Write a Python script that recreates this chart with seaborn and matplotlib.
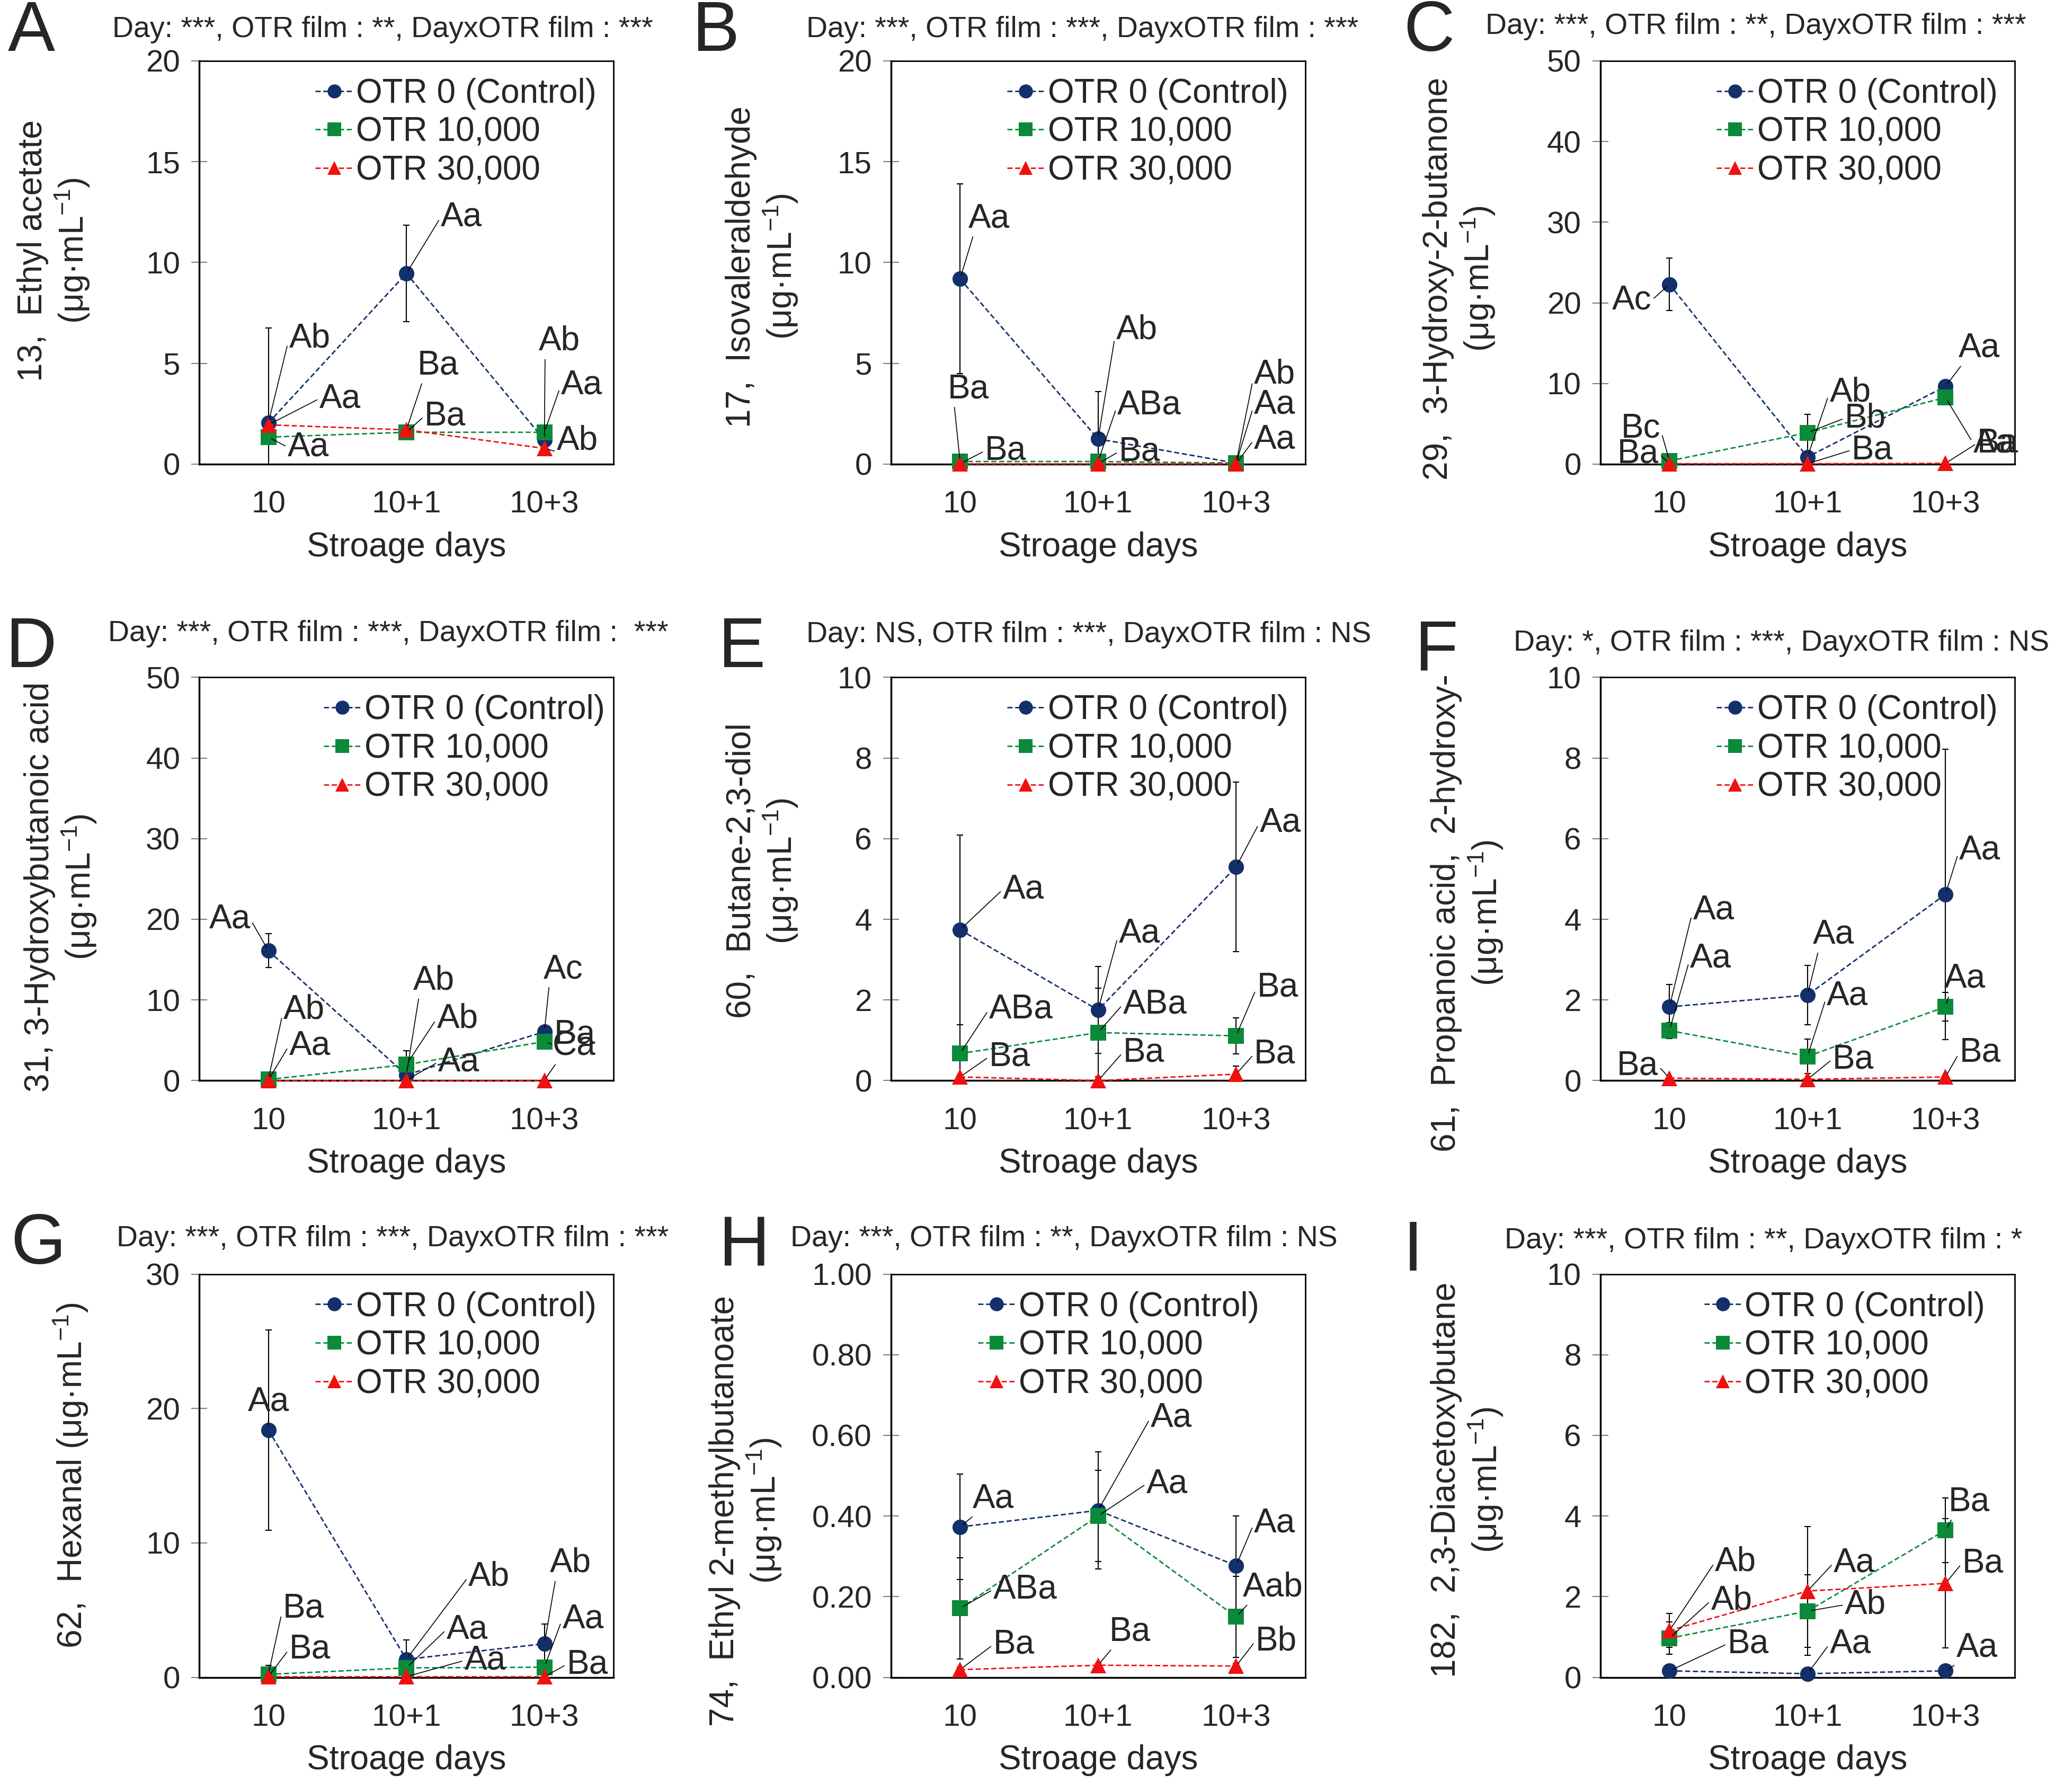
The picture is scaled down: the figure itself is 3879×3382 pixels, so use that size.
import numpy as np
import pandas as pd
import matplotlib
matplotlib.use("Agg")
import matplotlib.pyplot as plt
from matplotlib.lines import Line2D
from matplotlib.ticker import FormatStrFormatter
import seaborn as sns

# ------------------------------------------------------------
# DATA
# ------------------------------------------------------------
days = ["10", "10+1", "10+3"]
films = ["OTR 0 (Control)", "OTR 10,000", "OTR 30,000"]
panel_ids = ["A", "B", "C", "D", "E", "F", "G", "H", "I"]

unit = "(μg·mL$^{-1}$)"
ylabels = [
    "13,  Ethyl acetate\n" + unit,
    "17,  Isovaleraldehyde\n" + unit,
    "29,  3-Hydroxy-2-butanone\n" + unit,
    "31, 3-Hydroxybutanoic acid\n" + unit,
    "60,  Butane-2,3-diol\n" + unit,
    "61,  Propanoic acid,  2-hydroxy-\n" + unit,
    "62,  Hexanal " + unit,
    "74,  Ethyl 2-methylbutanoate\n" + unit,
    "182,  2,3-Diacetoxybutane\n" + unit,
]
stats = [
    "Day: ***, OTR film : **, DayxOTR film : ***",
    "Day: ***, OTR film : ***, DayxOTR film : ***",
    "Day: ***, OTR film : **, DayxOTR film : ***",
    "Day: ***, OTR film : ***, DayxOTR film :  ***",
    "Day: NS, OTR film : ***, DayxOTR film : NS",
    "Day: *, OTR film : ***, DayxOTR film : NS",
    "Day: ***, OTR film : ***, DayxOTR film : ***",
    "Day: ***, OTR film : **, DayxOTR film : NS",
    "Day: ***, OTR film : **, DayxOTR film : *",
]
ymax = [20, 20, 50, 50, 10, 10, 30, 1.0, 10]
ystep = [5, 5, 10, 10, 2, 2, 10, 0.2, 2]

# rows: control, 10,000, 30,000 ; columns: days
mean_A = [[2.04, 9.46, 1.2], [1.34, 1.58, 1.58], [1.95, 1.7, 0.78]]
err_A = [[4.7, 2.39, 0.3], [0.15, 0.1, 0.15], [0.1, 0.1, 0.1]]
lett_A = [["Ab", "Aa", "Ab"], ["Aa", "Ba", "Aa"], ["Aa", "Ba", "Ab"]]

mean_B = [[9.19, 1.25, 0.05], [0.13, 0.13, 0.05], [0.02, 0.02, 0.02]]
err_B = [[4.7, 2.35, 0.02], [0.05, 0.05, 0.02], [0.01, 0.01, 0.01]]
lett_B = [["Aa", "Ab", "Ab"], ["Ba", "ABa", "Aa"], ["Ba", "Ba", "Aa"]]

mean_C = [[22.3, 0.88, 9.64], [0.4, 3.9, 8.26], [0.05, 0.05, 0.1]]
err_C = [[3.25, 0.4, 0.5], [0.2, 2.3, 0.6], [0.05, 0.05, 0.05]]
lett_C = [["Ac", "Ab", "Aa"], ["Bc", "Bb", "Aa"], ["Ba", "Ba", "Ba"]]

mean_D = [[16.1, 0.7, 6.07], [0.14, 1.98, 4.83], [0.05, 0.05, 0.05]]
err_D = [[2.1, 0.3, 0.4], [0.1, 1.7, 0.4], [0.02, 0.02, 0.02]]
lett_D = [["Aa", "Ab", "Ac"], ["Ab", "Ab", "Ba"], ["Aa", "Aa", "Ca"]]

mean_E = [[3.74, 1.75, 5.3], [0.67, 1.19, 1.11], [0.09, 0.0, 0.16]]
err_E = [[2.35, 1.08, 2.1], [0.72, 1.1, 0.45], [0.05, 0.05, 0.2]]
lett_E = [["Aa", "Aa", "Aa"], ["ABa", "ABa", "Ba"], ["Ba", "Ba", "Ba"]]

mean_F = [[1.83, 2.12, 4.62], [1.24, 0.6, 1.83], [0.06, 0.03, 0.09]]
err_F = [[0.55, 0.73, 3.6], [0.2, 0.43, 0.35], [0.02, 0.02, 0.02]]
lett_F = [["Aa", "Aa", "Aa"], ["Aa", "Aa", "Aa"], ["Ba", "Ba", "Ba"]]

mean_G = [[18.4, 1.34, 2.5], [0.22, 0.7, 0.75], [0.05, 0.05, 0.05]]
err_G = [[7.45, 1.45, 1.45], [0.65, 0.3, 0.3], [0.02, 0.02, 0.02]]
lett_G = [["Aa", "Ab", "Ab"], ["Ba", "Aa", "Aa"], ["Ba", "Aa", "Ba"]]

mean_H = [[0.373, 0.414, 0.277], [0.171, 0.40, 0.15], [0.019, 0.03, 0.028]]
err_H = [[0.131, 0.145, 0.123], [0.125, 0.113, 0.1], [0.005, 0.005, 0.005]]
lett_H = [["Aa", "Aa", "Aa"], ["ABa", "Aa", "Aab"], ["Ba", "Ba", "Bb"]]

mean_I = [[0.16, 0.09, 0.16], [0.97, 1.64, 3.65], [1.16, 2.14, 2.33]]
err_I = [[0.05, 0.05, 0.05], [0.4, 0.9, 0.8], [0.42, 1.6, 1.6]]
lett_I = [["Ba", "Aa", "Aa"], ["Ab", "Ab", "Ba"], ["Ab", "Aa", "Ba"]]

means = [mean_A, mean_B, mean_C, mean_D, mean_E, mean_F, mean_G, mean_H, mean_I]
errs = [err_A, err_B, err_C, err_D, err_E, err_F, err_G, err_H, err_I]
letters = [lett_A, lett_B, lett_C, lett_D, lett_E, lett_F, lett_G, lett_H, lett_I]

# ------------------------------------------------------------
# LABEL PLACEMENT (dx in category units, dy in fraction of y range)
# ------------------------------------------------------------
off_A = [[(0.15, 0.21, "l"), (0.25, 0.14, "l"), (-0.04, 0.245, "l")],
         [(0.14, -0.025, "l"), (0.13, 0.04, "l"), (0.12, 0.117, "l")],
         [(0.37, 0.065, "l"), (0.08, 0.16, "l"), (0.09, 0.019, "l")]]
off_B = [[(0.06, 0.15, "l"), (0.13, 0.27, "l"), (0.13, 0.22, "l")],
         [(-0.09, 0.18, "l"), (0.14, 0.14, "l"), (0.13, 0.145, "l")],
         [(0.18, 0.032, "l"), (0.15, 0.03, "l"), (0.13, 0.06, "l")]]
off_C = [[(-0.13, -0.04, "r"), (0.16, 0.16, "l"), (0.095, 0.095, "l")],
         [(-0.066, 0.08, "r"), (0.27, 0.036, "l"), (0.2, -0.113, "l")],
         [(-0.076, 0.025, "r"), (0.32, 0.034, "l"), (0.23, 0.05, "l")]]
off_D = [[(-0.13, 0.078, "r"), (0.05, 0.234, "l"), (-0.006, 0.155, "l")],
         [(0.11, 0.173, "l"), (0.22, 0.114, "l"), (0.07, 0.018, "l")],
         [(0.15, 0.086, "l"), (0.23, 0.045, "l"), (0.06, 0.084, "l")]]
off_E = [[(0.31, 0.1, "l"), (0.15, 0.19, "l"), (0.17, 0.11, "l")],
         [(0.21, 0.11, "l"), (0.18, 0.07, "l"), (0.15, 0.12, "l")],
         [(0.21, 0.05, "l"), (0.18, 0.07, "l"), (0.13, 0.05, "l")]]
off_F = [[(0.17, 0.24, "l"), (0.04, 0.15, "l"), (0.1, 0.11, "l")],
         [(0.15, 0.18, "l"), (0.14, 0.15, "l"), (-0.01, 0.07, "l")],
         [(-0.08, 0.03, "r"), (0.18, 0.05, "l"), (0.1, 0.06, "l")]]
off_G = [[(0.0, 0.07, "c"), (0.45, 0.205, "l"), (0.04, 0.2, "l")],
         [(0.105, 0.164, "l"), (0.29, 0.095, "l"), (0.13, 0.12, "l")],
         [(0.15, 0.068, "l"), (0.42, 0.04, "l"), (0.16, 0.03, "l")]]
off_H = [[(0.09, 0.07, "l"), (0.38, 0.23, "l"), (0.13, 0.105, "l")],
         [(0.24, 0.047, "l"), (0.35, 0.08, "l"), (0.05, 0.074, "l")],
         [(0.24, 0.062, "l"), (0.08, 0.083, "l"), (0.14, 0.062, "l")]]
off_I = [[(0.42, 0.067, "l"), (0.16, 0.074, "l"), (0.08, 0.058, "l")],
         [(0.30, 0.093, "l"), (0.27, 0.016, "l"), (0.02, 0.07, "l")],
         [(0.33, 0.17, "l"), (0.19, 0.07, "l"), (0.12, 0.05, "l")]]
offsets = [off_A, off_B, off_C, off_D, off_E, off_F, off_G, off_H, off_I]

# ------------------------------------------------------------
# LAYOUT / STYLE
# ------------------------------------------------------------
col_left = [0.097, 0.4336, 0.7788]
row_bottom = [0.741, 0.397, 0.064]
ax_w, ax_h = 0.2015, 0.225
ylab_x = [-0.35, -0.31, -0.34, -0.334, -0.31, -0.32, -0.31, -0.35, -0.32]
ylab_y = [0.53, 0.49, 0.46, 0.48, 0.52, 0.416, 0.50, 0.413, 0.49]
stat_x = [-0.21, -0.205, -0.277, -0.22, -0.205, -0.21, -0.2, -0.243, -0.232]
stat_y = [0.078, 0.078, 0.085, 0.108, 0.105, 0.085, 0.088, 0.088, 0.082]
leg_x = [1.0, 1.0, 1.0, 1.02, 1.0, 1.0, 1.0, 0.93, 0.97]
letter_xy = [(0.0152, 0.9817), (0.3483, 0.9817), (0.6953, 0.9817),
             (0.0152, 0.6378), (0.361, 0.6378), (0.699, 0.6363),
             (0.0185, 0.3051), (0.3623, 0.3036), (0.6876, 0.3013)]

colors = ["#13306b", "#0b8a3a", "#f01010"]
markers = ["o", "s", "^"]
dash = (3.5, 1.8)

FS_TICK, FS_LAB, FS_STAT, FS_PANEL = 42, 46, 40, 96

sns.set_theme(style="white")
plt.rcParams["font.family"] = ["Liberation Sans", "DejaVu Sans"]
plt.rcParams["mathtext.fontset"] = "custom"
plt.rcParams["mathtext.rm"] = "Liberation Sans"
plt.rcParams["mathtext.it"] = "Liberation Sans:italic"
plt.rcParams["mathtext.bf"] = "Liberation Sans:bold"

fig = plt.figure(figsize=(38.79, 33.82), dpi=100)

for k, pid in enumerate(panel_ids):
    r, c = divmod(k, 3)
    ax = fig.add_axes([col_left[c], row_bottom[r], ax_w, ax_h])

    rows = []
    for s, film in enumerate(films):
        for d, day in enumerate(days):
            rows.append({"day": day, "film": film, "value": means[k][s][d],
                         "err": errs[k][s][d]})
    df = pd.DataFrame(rows)

    # error bars first (behind the lines)
    for s, film in enumerate(films):
        sub = df[df["film"] == film]
        ax.errorbar(sub["day"], sub["value"], yerr=sub["err"], fmt="none",
                    ecolor="black", elinewidth=1.5, capsize=4, capthick=1.5,
                    zorder=2)

    sns.lineplot(data=df, x="day", y="value", hue="film", style="film",
                 hue_order=films, style_order=films, palette=colors,
                 markers=markers, dashes=[dash] * 3, linewidth=2,
                 markersize=21, markeredgewidth=0, legend=False,
                 clip_on=False, zorder=3, ax=ax)

    ax.set_xlim(-0.5, 2.5)
    ax.set_ylim(0, ymax[k])
    ax.set_yticks(np.arange(0, ymax[k] + ystep[k] / 2, ystep[k]))
    if pid == "H":
        ax.yaxis.set_major_formatter(FormatStrFormatter("%.2f"))

    for sp in ax.spines.values():
        sp.set_visible(True)
        sp.set_color("black")
        sp.set_linewidth(2)
    ax.spines["bottom"].set_linewidth(2.5)
    ax.spines["left"].set_linewidth(2.5)

    ax.tick_params(axis="y", direction="inout", length=22, width=1.5,
                   color="#808080", labelsize=FS_TICK, pad=15, left=True)
    ax.tick_params(axis="x", length=0, labelsize=FS_TICK, pad=36)

    ax.set_xlabel("Stroage days", fontsize=FS_LAB)
    ax.xaxis.set_label_coords(0.5, -0.206)
    ax.xaxis.label.set_va("center")
    ax.set_ylabel(ylabels[k], fontsize=FS_LAB, linespacing=1.15)
    ax.yaxis.set_label_coords(ylab_x[k], ylab_y[k])
    ax.yaxis.label.set_va("center")

    ax.text(stat_x[k], 1 + stat_y[k], stats[k], transform=ax.transAxes,
            ha="left", va="center", fontsize=FS_STAT)

    # significance letters with leader lines
    for s in range(3):
        for d in range(3):
            dx, dy, al = offsets[k][s][d]
            y0 = means[k][s][d]
            ha = {"l": "left", "r": "right", "c": "center"}[al]
            rel = {"l": (0.0, 0.5), "r": (1.0, 0.5), "c": (0.5, 0.0)}[al]
            if al == "l" and abs(dx) < 0.1:
                rel = (0.15, 0.1)
            ax.annotate(letters[k][s][d], xy=(d, y0),
                        xytext=(d + dx, y0 + dy * ymax[k]), textcoords="data",
                        ha=ha, va="center", fontsize=FS_LAB,
                        annotation_clip=False, zorder=5,
                        arrowprops=dict(arrowstyle="-", color="black", lw=1.2,
                                        shrinkA=1, shrinkB=5, relpos=rel))

    handles = [Line2D([0], [0], color=colors[s], marker=markers[s],
                      markersize=19, markeredgewidth=0, lw=2, dashes=dash)
               for s in range(3)]
    ax.legend(handles, films, loc="upper right", bbox_to_anchor=(leg_x[k], 1.0),
              frameon=False, fontsize=FS_LAB, handlelength=1.1,
              handletextpad=0.1, labelspacing=0.2, borderpad=0.3,
              borderaxespad=0.2)

    fig.text(letter_xy[k][0], letter_xy[k][1], pid, fontsize=FS_PANEL,
             ha="center", va="center")

fig.savefig("out.png", dpi=100)
